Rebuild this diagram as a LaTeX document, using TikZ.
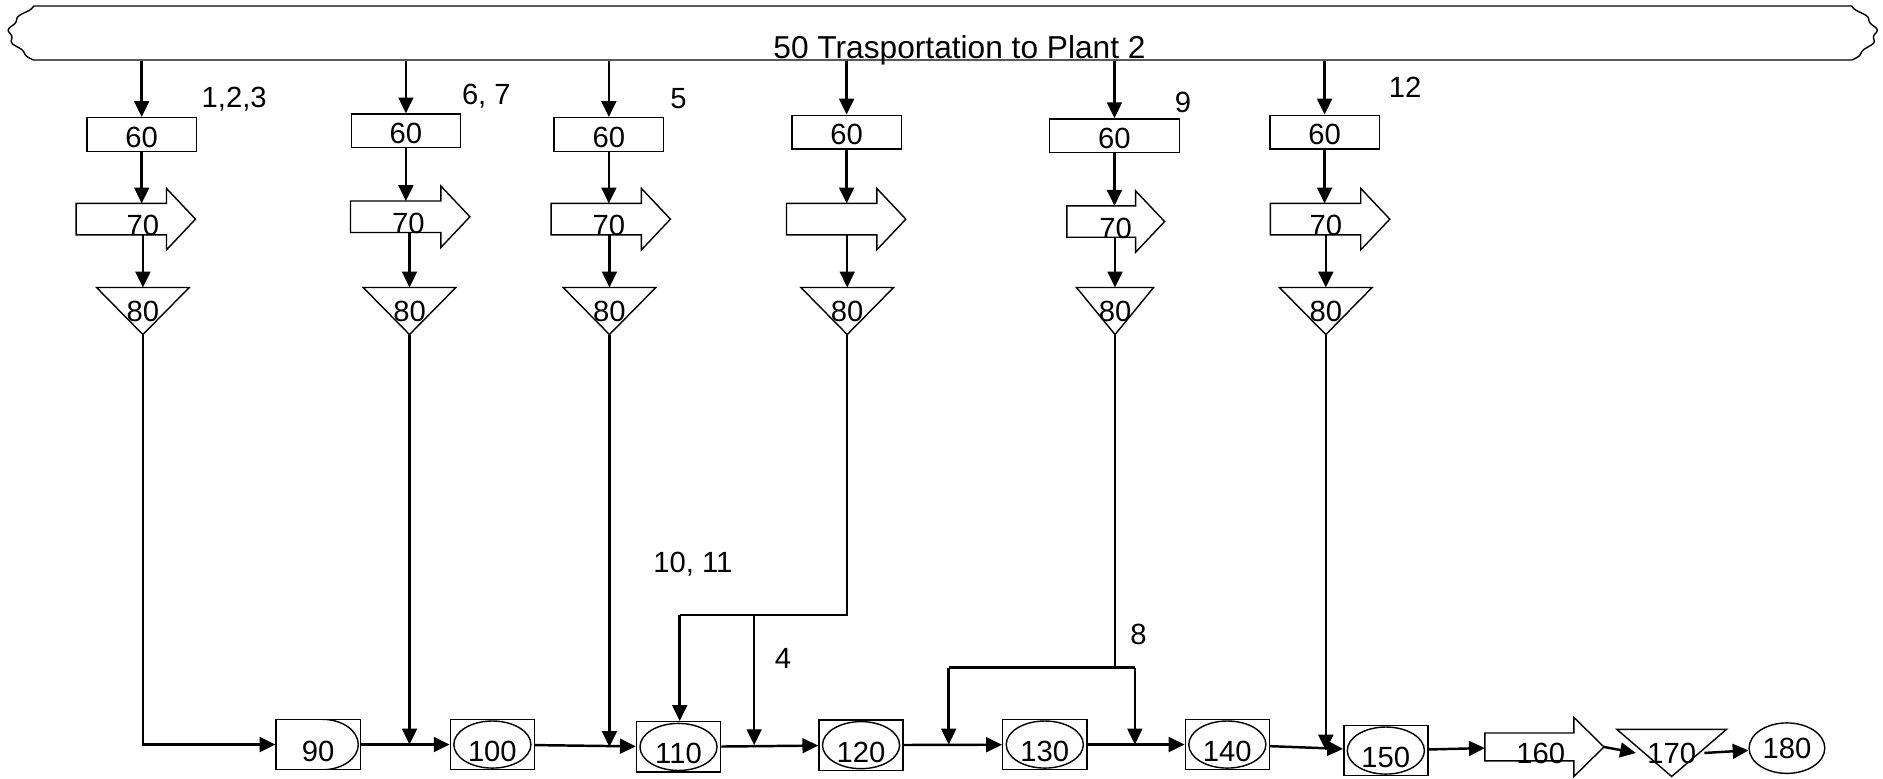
\documentclass[tikz,border=0pt]{standalone}
\usepackage{fontspec}
\setmainfont{Liberation Sans}
\usetikzlibrary{arrows.meta,shapes.geometric}

\tikzset{
  flow/.style={line width=0.7pt, -{Triangle[length=4.5pt,width=4.2pt]}},
  wire/.style={line width=0.7pt},
  edge/.style={line width=0.4pt},
  opbox/.style={draw, edge, inner sep=0pt, text height=0.25cm, text depth=0pt, minimum width=1.092cm, minimum height=0.336cm},
  mvbody/.style={inner sep=0pt, minimum width=0.888cm, minimum height=0.3cm},
  stock/.style={inner sep=0pt, minimum width=0.912cm, minimum height=0.456cm},
  stbox/.style={draw, edge, inner sep=0pt, text height=0.34cm, text depth=0pt, minimum width=0.84cm, minimum height=0.504cm},
  oval/.style={path picture={\draw[edge] (path picture bounding box.center) ellipse [x radius=0.385cm, y radius=0.235cm];}},
  halfoval/.style={path picture={\draw[edge] ([xshift=0.04cm]path picture bounding box.north) arc[start angle=90, end angle=-90, x radius=0.36cm, y radius=0.252cm];}},
}

\begin{document}
\begin{tikzpicture}[x=0.012cm, y=0.012cm, every node/.style={font=\fontsize{8.3}{10}\selectfont}]
\useasboundingbox (0,0) rectangle (1568,648);

% -----------------------------
% Transport banner
% -----------------------------
\node[inner sep=0pt, minimum width=18.648cm, minimum height=0.54cm] (banner) at (785,620.5) {};
\draw[edge] (28,598) -- (1542,598)
    -- plot[domain=0:1, samples=41, smooth] ({1542+20*sin(180*\x)+1.5*sin(1440*\x)}, {598+45*\x})
    -- (28,643)
    -- plot[domain=1:0, samples=41, smooth] ({28-20*sin(180*\x)-1.5*sin(1440*\x)}, {598+45*\x})
    -- cycle;
\node[font=\fontsize{9}{11}\selectfont] (title) at (799,606) {50 Trasportation to Plant 2};

% -----------------------------
% Columns: 60 -> 70 -> 80
% -----------------------------
\node[opbox] (b1) at (118,536) {60};
\node[opbox] (b2) at (338,539) {60};
\node[opbox] (b3) at (507,536) {60};
\node[opbox] (b4) at (705,538) {60};
\node[opbox, minimum width=1.296cm] (b5) at (928,535) {60};
\node[opbox] (b6) at (1103,538) {60};

% move arrows (body only, head drawn below)
\node[mvbody] (a1) at (101,465.5) {};
\node[mvbody] (a2) at (329.5,467.5) {};
\node[mvbody] (a3) at (496.5,465.5) {};
\node[mvbody] (a4) at (692.5,465.5) {};
\node[mvbody, minimum width=0.672cm] (a5) at (917,463.5) {};
\node[mvbody] (a6) at (1095.5,465.5) {};
\foreach \n in {1,...,6}
    \draw[edge] (a\n.north west) -- (a\n.north east) -- ++(0,12.5)
        -- ([xshift=0.29cm]a\n.east) -- ([yshift=-0.15cm]a\n.south east)
        -- (a\n.south east) -- (a\n.south west) -- cycle;

\node (m1) at (119,460) {70};
\node (m2) at (340,462) {70};
\node (m3) at (507,460) {70};
\node (m5) at (929,458) {70};   % no label in column 4
\node (m6) at (1104,460) {70};

% storage triangles
\node[stock] (t1) at (119,389) {80};
\node[stock] (t2) at (341,389) {80};
\node[stock] (t3) at (507.5,389) {80};
\node[stock] (t4) at (705.5,389) {80};
\node[stock, minimum width=0.756cm] (t5) at (928.5,389) {80};
\node[stock] (t6) at (1104,389) {80};
\foreach \n in {1,...,6}
    \draw[edge] (t\n.north west) -- (t\n.north east) -- (t\n.south) -- cycle;

\foreach \n in {1,...,6} {
    \draw[flow] (b\n.north |- banner.south) -- (b\n.north);
    \draw[flow] (b\n.south) -- (b\n.south |- a\n.north);
    \draw[flow] (a\n.south -| t\n.north) -- (t\n.north);
}

% part labels
\node (q1) at (195,565) {1,2,3};
\node (q2) at (405,568) {6, 7};
\node (q3) at (565,566) {5};
\node (q4) at (985,563) {9};
\node (q5) at (1170,575) {12};
\node (q6) at (577,178) {10, 11};
\node (q7) at (652,100) {4};
\node (q8) at (948,120) {8};

% -----------------------------
% Main line
% -----------------------------
\node[stbox, halfoval] (n90) at (265,28) {90};
\node[stbox, oval] (n100) at (410,28) {100};
\node[stbox, oval] (n110) at (565,26) {110};
\node[stbox, oval] (n120) at (717,27.5) {120};
\node[stbox, oval] (n130) at (870,28) {130};
\node[stbox, oval] (n140) at (1022,28) {140};
\node[stbox, oval] (n150) at (1154,23) {150};

\node[mvbody, minimum width=0.876cm, minimum height=0.264cm] (a7) at (1273.5,26) {};
\draw[edge] (a7.north west) -- (a7.north east) -- ++(0,13)
    -- ([xshift=0.3cm]a7.east) -- ([yshift=-0.156cm]a7.south east)
    -- (a7.south east) -- (a7.south west) -- cycle;
\node (m7) at (1283,21) {160};

\node[stock, minimum width=1.08cm] (t7) at (1392,21) {170};
\draw[edge] (t7.north west) -- (t7.north east) -- (t7.south) -- cycle;

\node[draw, edge, ellipse, inner sep=0pt, minimum width=0.756cm, minimum height=0.504cm] (n180) at (1488,25) {180};

\draw[flow] (t1.south) |- (n90.west);
\draw[flow] (n90) -- (n100);
\draw[flow] (n100) -- (n110);
\draw[flow] (n110) -- (n120);
\draw[flow] (n120) -- (n130);
\draw[flow] (n130) -- (n140);
\draw[flow] (n140) -- (n150);
\draw[flow] (n150) -- (a7);
\draw[flow] ([xshift=0.3cm]a7.east) -- ([xshift=0.19cm]t7.west);
\draw[flow] ([xshift=-0.22cm]t7.east) -- (n180);

% drops from the columns
\draw[flow] (t2.south) -- (t2.south |- n100.west);
\draw[flow] (t3.south) -- (t3.south |- n110.west);

\coordinate (j4) at (566,136);
\coordinate (k4) at (628,136);
\draw[wire] (t4.south) |- (j4);
\draw[flow] (j4) -- (j4 |- n110.north);
\draw[flow] (k4) -- (k4 |- n120.west);

\coordinate (l5) at (790,92);
\coordinate (r5) at (945,92);
\draw[wire] (t5.south) -- (t5.south |- l5);
\draw[wire] (l5) -- (r5);
\draw[flow] (l5) -- (l5 |- n130.west);
\draw[flow] (r5) -- (r5 |- n140.west);

\draw[flow] (t6.south) -- (t6.south |- n150.west);

\end{tikzpicture}
\end{document}
